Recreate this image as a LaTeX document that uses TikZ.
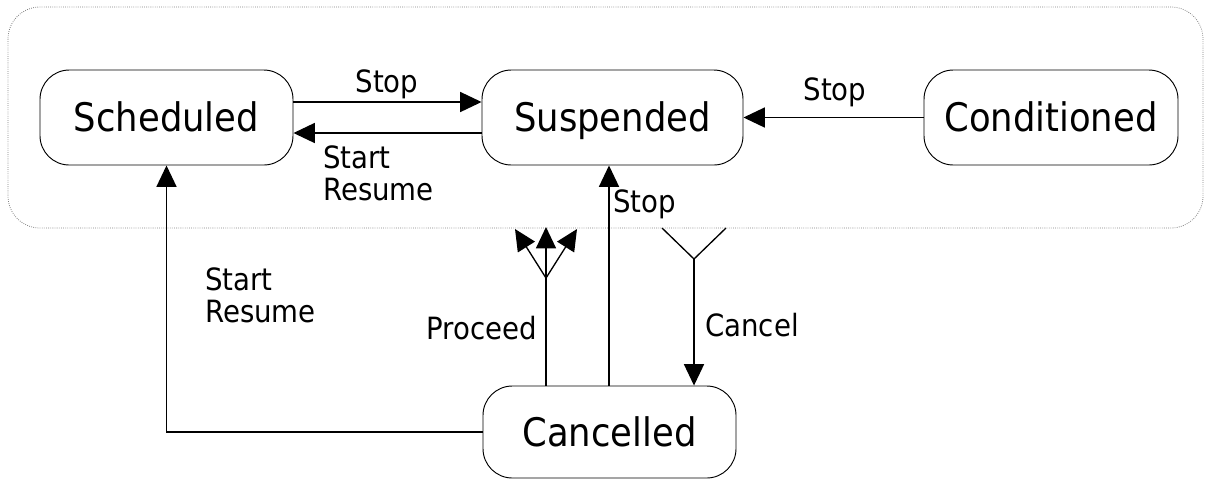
\documentclass[tikz,border=0pt]{standalone}
\usepackage{fontspec}
\setmainfont{DejaVu Sans Condensed}
\usetikzlibrary{arrows.meta}
\begin{document}
\begin{tikzpicture}[x=0.75pt,y=-0.75pt,
  state/.style={draw, line width=0.7pt, rounded corners=22pt, align=center,
    font=\fontsize{29.5}{32}\selectfont, inner sep=0pt, text height=21.5pt, text depth=0pt},
  lbl/.style={font=\fontsize{23}{24.5}\selectfont, align=left, inner sep=0pt},
  link/.style={line width=1pt},
  arr/.style={link, -{Triangle[length=16pt,width=15pt]}},
  frame/.style={densely dotted, gray, line width=0.6pt, rounded corners=24pt}]
\useasboundingbox (0,0) rectangle (1205,480);

% outer region holding the three active states
\draw[frame] (8,7) rectangle (1203,228);

% states
\node[state, minimum width=189.75pt, minimum height=71.25pt] (sch) at (166.5,117.5) {Scheduled};
\node[state, minimum width=195.75pt, minimum height=71.25pt] (sus) at (612.5,117.5) {Suspended};
\node[state, minimum width=190.5pt, minimum height=71.25pt] (con) at (1051,117.5) {Conditioned};
\node[state, minimum width=189.75pt, minimum height=69pt] (can) at (609.5,432) {Cancelled};

% helper levels for the pair of horizontal arrows
\coordinate (hi) at (0,102);
\coordinate (lo) at (0,133);

% Scheduled <-> Suspended
\draw[arr] (sch.east |- hi) -- (sus.west |- hi);
\draw[arr] (sus.west |- lo) -- (sch.east |- lo);
\node[lbl, anchor=south] (l1) at (387,99) {Stop};
\node[lbl, anchor=north west] (l2) at (323,145) {Start\\Resume};

% Conditioned -> Suspended
\draw[arr] (con.west) -- (sus.east);
\node[lbl] (l3) at (835,92) {Stop};

% Cancelled -> Scheduled
\draw[arr] (can.west) -| (sch.south);
\node[lbl, anchor=north west] (l4) at (205,267) {Start\\Resume};

% Cancelled -> Suspended
\coordinate (sx) at (609,0);
\draw[arr] (can.north -| sx) -- (sus.south -| sx);
\node[lbl, anchor=north west] (l5) at (613,189) {Stop};

% Cancelled -> region (proceed fork)
\coordinate (px) at (546,0);
\coordinate (pf) at (546,278);
\coordinate (p1) at (515,229);
\coordinate (p2) at (546,227);
\coordinate (p3) at (577,229);
\draw[link] (can.north -| px) -- (pf);
\draw[arr] (pf) -- (p1);
\draw[arr] (pf) -- (p2);
\draw[arr] (pf) -- (p3);
\node[lbl, anchor=east] (l6) at (537,328) {Proceed};

% region -> Cancelled (cancel join)
\coordinate (c1) at (662,228);
\coordinate (c2) at (726,228);
\coordinate (cf) at (694,259);
\draw[link] (c1) -- (cf) -- (c2);
\draw[arr] (cf) -- (can.north -| cf);
\node[lbl, anchor=west] (l7) at (705,325) {Cancel};
\end{tikzpicture}
\end{document}
